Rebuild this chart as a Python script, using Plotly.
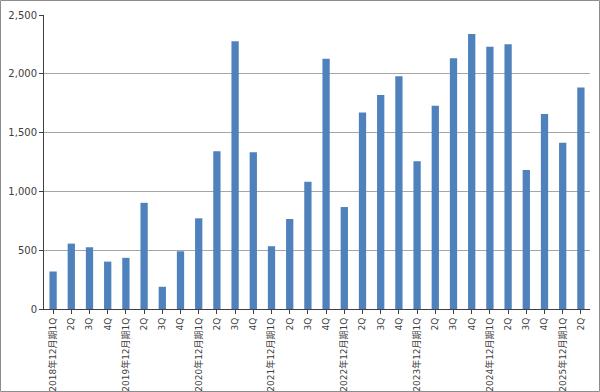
import plotly.graph_objects as go

categories = [
    "2018年12月期1Q", "2Q", "3Q", "4Q",
    "2019年12月期1Q", "2Q ", "3Q ", "4Q ",
    "2020年12月期1Q", "2Q  ", "3Q  ", "4Q  ",
    "2021年12月期1Q", "2Q   ", "3Q   ", "4Q   ",
    "2022年12月期1Q", "2Q    ", "3Q    ", "4Q    ",
    "2023年12月期1Q", "2Q     ", "3Q     ", "4Q     ",
    "2024年12月期1Q", "2Q      ", "3Q      ", "4Q      ",
    "2025年12月期1Q", "2Q       ",
]
values = [
    319, 556, 525, 403,
    435, 903, 189, 491,
    771, 1342, 2277, 1333,
    534, 765, 1082, 2127,
    867, 1670, 1819, 1980,
    1257, 1729, 2133, 2339,
    2229, 2252, 1181, 1658,
    1413, 1884,
]
y_ticks = [0, 500, 1000, 1500, 2000, 2500]
y_tick_labels = ["0", "500", "1,000", "1,500", "2,000", "2,500"]

W, H = 600, 392
ml, mr, mt, mb = 44, 10, 15, 83

fig = go.Figure(go.Bar(
    x=list(range(len(categories))), y=values,
    marker=dict(color="#4F81BD", line=dict(width=0)),
    width=0.4,
))

fig.update_layout(
    width=W, height=H,
    margin=dict(l=ml, r=mr, t=mt, b=mb, pad=0),
    paper_bgcolor="white", plot_bgcolor="white",
    showlegend=False,
    font=dict(family="DejaVu Sans, Noto Sans CJK JP", size=10, color="#404040"),
)
fig.update_xaxes(
    tickmode="array",
    tickvals=list(range(len(categories))),
    ticktext=[c.strip() for c in categories],
    tickangle=-90,
    range=[-0.5, len(categories) - 0.5],
    showline=True, linecolor="#404040", linewidth=1,
    ticks="outside", ticklen=4, tickcolor="#404040",
    tickson="boundaries",
    showgrid=False,
    automargin=False,
    tickfont=dict(family="DejaVu Sans, Noto Sans CJK JP", size=9, color="#404040"),
)
fig.update_yaxes(
    range=[0, 2500],
    tickmode="array", tickvals=y_ticks, ticktext=y_tick_labels,
    showline=True, linecolor="#404040", linewidth=1,
    ticks="outside", ticklen=4, tickcolor="#404040",
    showgrid=True, gridcolor="#A6A6A6", gridwidth=1,
    zeroline=False,
    automargin=False,
    tickfont=dict(size=10, color="#404040"),
)

pw = W - ml - mr
ph = H - mt - mb
fig.add_shape(
    type="rect", xref="paper", yref="paper",
    x0=(0.5 - ml) / pw, x1=(W - 0.5 - ml) / pw,
    y0=-(mb - 0.5) / ph, y1=(ph + mt - 0.5) / ph,
    line=dict(color="#8C8C8C", width=1),
)

fig.write_html("out.html")
